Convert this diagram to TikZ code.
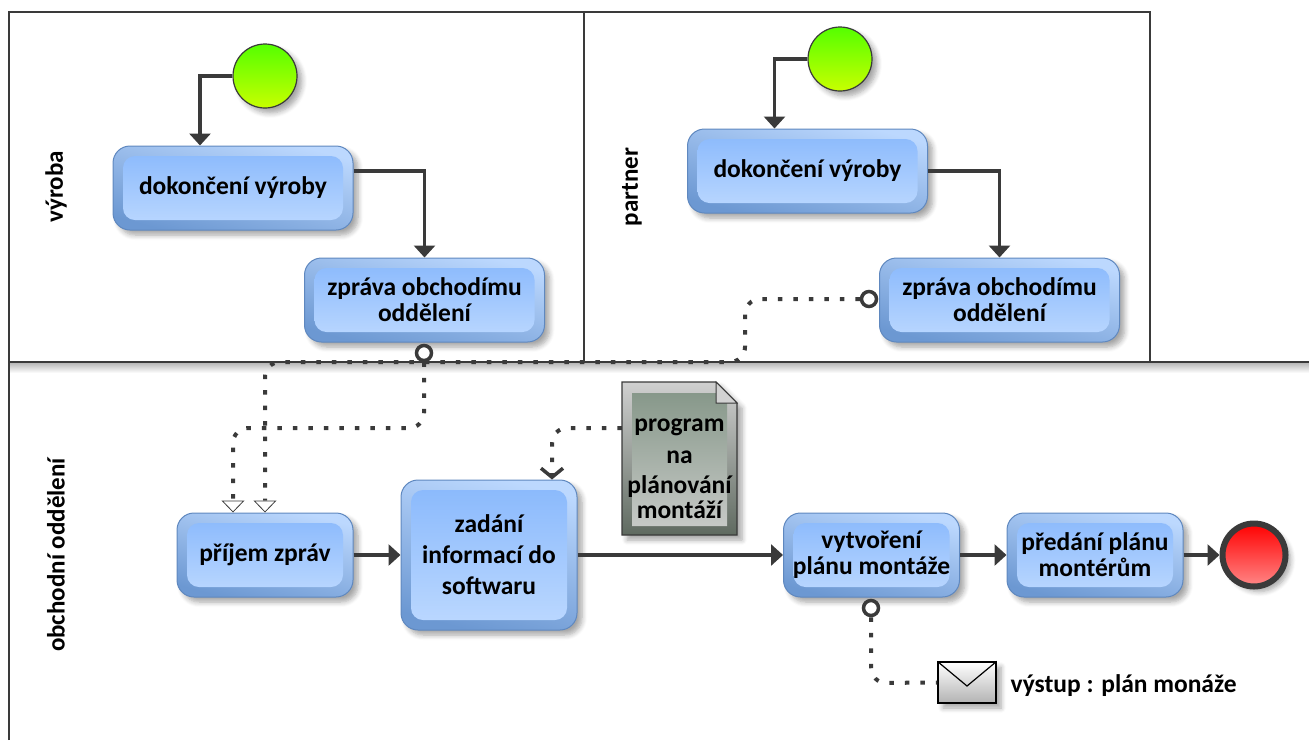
\documentclass[tikz,border=0pt]{standalone}
\usepackage{fontspec}
\setmainfont{Carlito}
\usetikzlibrary{arrows.meta, shadows, shadows.blur}
\definecolor{flowgray}{HTML}{3A3A3A}
\definecolor{taskline}{HTML}{5F88BF}
\definecolor{doctop}{HTML}{D0D0D0}
\definecolor{docbottom}{HTML}{5F6A60}
\tikzset{
    softshadow/.style={blur shadow={shadow xshift=5pt, shadow yshift=-5pt, shadow blur steps=6, shadow blur radius=5pt, shadow opacity=35}},
    taskbox/.style={rectangle, rounded corners=17pt, draw=taskline, line width=1pt, softshadow, inner sep=0pt, align=center, font=\fontsize{25.5}{26}\selectfont\bfseries,
        top color={rgb,255:red,188;green,216;blue,254}, bottom color={rgb,255:red,108;green,152;blue,210}, shading angle=-15,
        path picture={\shade[rounded corners=12pt, top color={rgb,255:red,136;green,184;blue,252}, bottom color={rgb,255:red,189;green,217;blue,255}] ([shift={(10pt,-10pt)}]path picture bounding box.north west) rectangle ([shift={(-10pt,10pt)}]path picture bounding box.south east);}},
    smallcircle/.style={circle, draw=flowgray, line width=3.5pt, fill=white, minimum size=15pt, inner sep=0pt},
    startevent/.style={circle, draw=flowgray, line width=1.2pt, minimum size=64pt, inner sep=0pt, top color={rgb,255:red,85;green,255;blue,0}, bottom color={rgb,255:red,200;green,255;blue,0}, softshadow},
    endevent/.style={circle, draw=flowgray, line width=6pt, minimum size=63pt, inner sep=0pt, top color={rgb,255:red,255;green,0;blue,0}, bottom color={rgb,255:red,255;green,136;blue,136}, softshadow},
    flow/.style={draw=flowgray, line width=3.5pt, -{Triangle[width=21pt,length=12pt]}},
    msgflow/.style={draw=flowgray, line width=4pt, dash pattern=on 4.5pt off 11pt, rounded corners=15pt, -{Triangle[open,width=23pt,length=12pt,line width=.8pt,fill=white]}},
    assoc/.style={draw=flowgray, line width=4pt, dash pattern=on 4.5pt off 11pt, rounded corners=15pt},
    lanelabel/.style={rotate=90, font=\fontsize{25}{27}\selectfont\bfseries},
    lane/.style={draw=flowgray, line width=1.2pt}
}
\begin{document}
\begin{tikzpicture}[x=1pt, y=-1pt]
    \useasboundingbox (0,0) rectangle (1309,740);
    % lanes
    \shade[top color=black!30, bottom color=white] (9,362) rectangle (1309,373);
    \draw[lane] (9,740) -- (9,12) -- (1150,12) -- (1150,362);
    \draw[lane] (584,12) -- (584,362);
    \draw[lane] (9,362) -- (1309,362);
    \node[lanelabel] (lanevyroba) at (56,187) {výroba};
    \node[lanelabel] (lanepartner) at (632,187) {partner};
    \node[lanelabel] (laneobchod) at (56,555) {obchodní oddělení};

    % tasks
    \node[taskbox, minimum width=240pt, minimum height=84pt] (doneA) at (233,188) {dokončení výroby};
    \node[taskbox, minimum width=240pt, minimum height=84pt] (msgA) at (424.5,300) {zpráva obchodímu\\oddělení};
    \node[taskbox, minimum width=240pt, minimum height=84pt] (doneB) at (807.5,171) {dokončení výroby};
    \node[taskbox, minimum width=240pt, minimum height=84pt] (msgB) at (999.5,300) {zpráva obchodímu\\oddělení};
    \node[taskbox, minimum width=176pt, minimum height=84pt] (receive) at (265,555) {příjem zpráv};
    \node[taskbox, minimum width=176pt, minimum height=150pt] (enter) at (489,555) {zadání\\[5pt]informací do\\[5pt]softwaru};
    \node[taskbox, minimum width=176pt, minimum height=84pt] (plan) at (871.5,555) {vytvoření\\plánu montáže};
    \node[taskbox, minimum width=176pt, minimum height=84pt] (handover) at (1095,555) {předání plánu\\montérům};

    % events
    \node[startevent] (startA) at (265,76) {};
    \node[startevent] (startB) at (840,59) {};
    \node[endevent] (finish) at (1254,555) {};

    % document
    \path[draw=flowgray, line width=1.2pt, top color=doctop, bottom color=docbottom, softshadow] (622,382) -- (716,382) -- (737,403) -- (737,535) -- (622,535) -- cycle;
    \shade[top color={rgb,255:red,135;green,152;blue,138}, bottom color={rgb,255:red,198;green,201;blue,198}] (632,393) -- (716,393) -- (727,403) -- (727,526) -- (632,526) -- cycle;
    \path[draw=flowgray, line width=1pt, fill=gray!35] (716,382) -- (737,403) -- (716,403) -- cycle;
    \node[inner sep=0pt, minimum width=115pt, align=center, font=\fontsize{25.5}{26}\selectfont\bfseries] (program) at (679.5,469) {program\\[6pt]na\\[4pt]plánování\\[-1pt]montáží};

    % envelope
    \node[rectangle, draw=black, line width=1.2pt, minimum width=58pt, minimum height=41pt, inner sep=0pt, top color=white, bottom color=gray!60, softshadow] (mail) at (967,682.5) {};
    \draw[black, line width=1.2pt] (mail.north west) -- (967,686) -- (mail.north east);
    \node[anchor=west, font=\fontsize{25.5}{27}\selectfont\bfseries] (mailtext) at (1007,686) {výstup : plán monáže};

    % small circles
    \node[smallcircle] (dotA) at (424,353) {};
    \node[smallcircle] (dotB) at (869,299) {};
    \node[smallcircle] (dotC) at (871,608) {};

    % sequence flows
    \draw[flow] (startA.west) -| ([xshift=-33pt]doneA.north);
    \draw[flow] ([yshift=17pt]doneA.east) -| (msgA.north);
    \draw[flow] (startB.west) -| ([xshift=-33pt]doneB.north);
    \draw[flow] (doneB.east) -| (msgB.north);
    \draw[flow] (receive) -- (enter);
    \draw[flow] (enter) -- (plan);
    \draw[flow] (plan) -- (handover);
    \draw[flow] (handover) -- (finish);

    % message flows
    \coordinate (dropA) at ([xshift=-32pt]receive.north);
    \draw[msgflow] (dotB.west) -- (745,299) -- (745,362) -- (265,362) -- (receive.north);
    \draw[msgflow] (dotA.south) -- (424,428) -- (233,428) -- (dropA);
    \draw[assoc, -{Straight Barb[width=22pt,length=9pt,line width=3.5pt]}] ([yshift=41pt]program.west) -- (552,428) -- ([xshift=63pt]enter.north);
    \draw[assoc] (dotC.south) -- (871,683) -- (mail.west);
\end{tikzpicture}
\end{document}
